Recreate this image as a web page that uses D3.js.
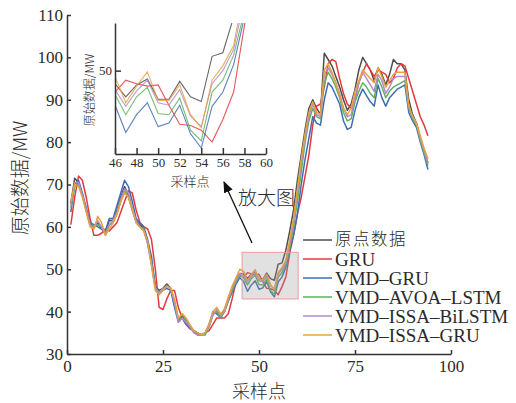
<!DOCTYPE html>
<html>
<head>
<meta charset="utf-8">
<title>采样点预测对比</title>
<script src="https://d3js.org/d3.v7.min.js"></script>
<style>
  body { margin: 0; background: #fff; }
  svg text { fill: #2a2a2a; }
  .num { font-family: "Liberation Serif", "DejaVu Serif", serif; }
  .cjk { font-family: "Noto Sans CJK SC", sans-serif; font-weight: 300; }
  .axis path, .axis line { stroke: #333; }
</style>
</head>
<body>
<script>
// sample index 1..94
var samples = d3.range(1, 95);

var seriesNames = ["原点数据", "GRU", "VMD–GRU", "VMD–AVOA–LSTM", "VMD–ISSA–BiLSTM", "VMD–ISSA–GRU"];
var seriesColors = ["#4d4d4d", "#e5393c", "#3f6db4", "#5db25d", "#b48acc", "#e7a23e"];

var original = [65.5, 71.5, 70.5, 67.5, 64, 60.5, 60, 61, 59.5, 58.5,
  61.5, 61.5, 64, 67, 69.5, 67.5, 64, 61.5, 60.5, 59.5,
  56.5, 51.5, 46, 45, 45.5, 46.5, 45.5, 42, 38, 39,
  37.5, 36.5, 35.5, 34.5, 34.5, 35, 36.5, 39.5, 40, 39,
  40.5, 43, 45.5, 47.5, 49, 48.9, 47.8, 48.8, 49.3, 47.6,
  47.6, 49.1, 47.8, 47.4, 51.2, 51.5, 54.5, 59, 64, 71,
  77, 83, 88, 90, 88, 86.5, 101, 99.5, 98, 95.5,
  93, 90, 87.5, 89, 92.5, 97, 100, 98.5, 97, 94.5,
  97.5, 96, 93.5, 96, 99.5, 98.5, 98.5, 97, 90, 86.5,
  84.5, 81, 78, 75];

var gru = [60.5, 67, 72, 71, 67, 62, 58, 58, 58.5, 59.5,
  59, 60, 61, 63.5, 66, 68.5, 68, 64, 61, 60,
  59.5, 57, 50, 41, 40.5, 43, 45, 45, 41, 38.5,
  37, 36, 35.5, 35, 34.5, 35, 35.5, 37, 38.5, 38.5,
  38.5, 39.5, 43, 47, 48.5, 48.2, 49.2, 48.9, 48.7, 48.8,
  47.1, 45.5, 45.4, 45, 44, 45.9, 48.2, 53.8, 58, 63,
  67, 72, 77, 84, 88.5, 89, 93, 98.5, 99.5, 99,
  95, 91.5, 89, 88, 90, 94, 96.5, 98.5, 97, 95.5,
  97, 96.5, 96, 94, 95, 97.5, 98.5, 98, 95, 92,
  89, 86, 84, 81.5];

var vmdGru = [63.5, 70, 71, 68, 64.5, 61, 60.5, 60, 59.5, 59,
  62, 62, 65, 68, 71, 69.5, 66, 62, 61, 60,
  57, 53, 46, 44.5, 45, 45.5, 45, 41, 37.5, 38.5,
  37, 36, 35.5, 35, 34.5, 35, 37, 40, 39.5, 38.5,
  40, 42.5, 44.5, 46.5, 48, 47.1, 44.8, 46.3, 47.3, 45.3,
  45.6, 47.1, 44.7, 43.5, 47, 48.2, 50.5, 54.5, 58, 63,
  70, 76, 81, 86, 84.5, 84, 90, 94, 93, 91,
  89, 85, 83, 83.5, 87.5, 90.5, 92.5, 91, 89.5, 88.5,
  93.5, 90.5, 88.5, 90.5, 91.5, 92.5, 93, 93.5, 87, 85,
  83.5, 80, 77, 73.5];

var vmdAvoaLstm = [64.5, 69.5, 70, 67.5, 64, 60.5, 60, 60.5, 60, 58.5,
  60.5, 61, 63, 66, 68.5, 67, 64, 61, 60, 59.5,
  56, 51.5, 45.5, 44.5, 45, 46, 45.5, 42.5, 38, 39.5,
  38, 36.5, 35.5, 35, 34.5, 34.5, 36.5, 39.5, 40, 38.5,
  40, 42.5, 45, 47, 48.5, 48, 46.3, 47.8, 48.6, 46.4,
  46.3, 47.7, 45, 44.1, 48.2, 49.2, 51.3, 55, 60, 66,
  73, 80, 85, 88, 86, 85.5, 94, 96.5, 95, 93,
  90.5, 87, 85, 85.5, 89.5, 92, 94, 93, 91.5, 90.5,
  95, 93, 90.5, 92, 93, 93.5, 94, 94.5, 88, 85.5,
  84, 80.5, 77.5, 74.5];

var vmdIssaBilstm = [65, 70.5, 70.5, 67.5, 64, 60.5, 59.5, 61.5, 60, 58,
  60.5, 61.5, 63.5, 66.5, 69, 68, 64.5, 61.5, 60, 59,
  56, 51, 45.5, 44.5, 45.5, 46, 45.5, 42, 37.5, 38.5,
  37.5, 36.5, 35, 34.5, 34.5, 35, 36.5, 39, 40.5, 39,
  40, 43, 45.5, 47.5, 49, 48.4, 47, 48.3, 49.2, 47.3,
  47.1, 48.4, 46.2, 45.3, 48.9, 50, 51.8, 56, 61, 68,
  75, 81, 86, 89, 86.5, 86, 96, 97.5, 96, 94,
  91.5, 88, 86, 86.5, 90.5, 94, 96.5, 95, 93.5, 92,
  96, 94.5, 91.5, 93, 95, 95.5, 95.5, 95.5, 88.5, 86,
  84.5, 81, 78, 75];

var vmdIssaGru = [66, 70, 69.5, 67, 63.5, 60, 59.5, 62.5, 61, 58,
  59.5, 61, 63, 66, 68, 67, 64, 61, 60, 59,
  56.5, 51, 45, 44, 45, 46, 45.5, 43, 38.5, 39.5,
  38.5, 37, 35.5, 35, 34.5, 35, 37, 40, 41, 39.5,
  40.5, 43.5, 46, 48, 50, 49.5, 47.3, 48.7, 49.9, 47.5,
  47.5, 48.8, 46.3, 45.2, 49.2, 50.4, 52.1, 57, 62, 69,
  76, 82, 87, 89.5, 87, 86.5, 97, 98.5, 96.5, 94,
  91, 88, 86.5, 88, 92, 94.5, 97, 96, 95, 94,
  97.5, 95.5, 93, 94.5, 96, 96.5, 96.5, 96.5, 88.5, 86,
  84.5, 81.5, 78.5, 76];

var allSeries = [original, gru, vmdGru, vmdAvoaLstm, vmdIssaBilstm, vmdIssaGru];

var xTicks = [0, 25, 50, 75, 100];
var yTicks = [30, 40, 50, 60, 70, 80, 90, 100, 110];
var insetXTicks = [46, 48, 50, 52, 54, 56, 58, 60];
var insetYTicks = [50];
var zoomBox = {x0: 45.6, x1: 60.2, y0: 43, y1: 54};

var width = 516, height = 403;

var svg = d3.select("body").append("svg")
    .attr("width", width)
    .attr("height", height);

// ---- main plot ----
var x = d3.scaleLinear().domain([0, 100]).range([67, 451]);
var y = d3.scaleLinear().domain([30, 110]).range([354, 15]);

var line = d3.line()
    .x(function(d, i) { return x(samples[i]); })
    .y(function(d) { return y(d); });

svg.append("g").selectAll("path")
    .data(allSeries)
  .enter().append("path")
    .attr("d", line)
    .attr("fill", "none")
    .attr("stroke", function(d, i) { return seriesColors[i]; })
    .attr("stroke-width", 1.5)
    .attr("stroke-linejoin", "round");

// shaded zoom region
svg.append("rect")
    .attr("x", x(zoomBox.x0))
    .attr("y", y(zoomBox.y1))
    .attr("width", x(zoomBox.x1) - x(zoomBox.x0))
    .attr("height", y(zoomBox.y0) - y(zoomBox.y1))
    .attr("fill", "#9a9a9a")
    .attr("fill-opacity", 0.3)
    .attr("stroke", "#e89a9a")
    .attr("stroke-width", 1);

svg.append("g")
    .attr("class", "axis num")
    .attr("transform", "translate(0,354)")
    .call(d3.axisBottom(x).tickValues(xTicks).tickSize(-4).tickSizeOuter(0).tickPadding(6));
svg.append("g")
    .attr("class", "axis num")
    .attr("transform", "translate(67,0)")
    .call(d3.axisLeft(y).tickValues(yTicks).tickSize(-4).tickSizeOuter(0).tickPadding(4));

svg.selectAll(".axis path").attr("stroke-width", 1.5);
svg.selectAll(".axis line").attr("stroke-width", 1.5);
svg.selectAll(".axis text").attr("font-size", 17).attr("fill", "#2a2a2a")
    .attr("font-family", "Liberation Serif, serif");

svg.append("text")
    .attr("class", "cjk")
    .attr("x", 259).attr("y", 398)
    .attr("text-anchor", "middle")
    .attr("font-size", 18)
    .text("采样点");

svg.append("text")
    .attr("class", "cjk")
    .attr("transform", "translate(27,178) rotate(-90)")
    .attr("text-anchor", "middle")
    .attr("font-size", 19)
    .text("原始数据/MW");

// legend
var legend = svg.append("g").attr("transform", "translate(303,240)");
seriesNames.forEach(function(name, i) {
  var g = legend.append("g").attr("transform", "translate(0," + (i * 19) + ")");
  g.append("line")
      .attr("x1", 0).attr("x2", 29)
      .attr("stroke", seriesColors[i])
      .attr("stroke-width", 1.5);
  g.append("text")
      .attr("class", i == 0 ? "cjk" : "num")
      .attr("x", 32).attr("dy", i == 0 ? "0.3em" : "0.35em")
      .attr("font-size", i == 0 ? 16.5 : 19)
      .attr("letter-spacing", i == 0 ? 1.5 : 0)
      .text(name);
});

// annotation arrow
svg.append("defs").append("marker")
    .attr("id", "head")
    .attr("viewBox", "0 0 10 10")
    .attr("refX", 9).attr("refY", 5)
    .attr("markerWidth", 9).attr("markerHeight", 9)
    .attr("orient", "auto")
  .append("path")
    .attr("d", "M0,1L10,5L0,9z")
    .attr("fill", "#111");

svg.append("line")
    .attr("x1", 252).attr("y1", 243)
    .attr("x2", 224).attr("y2", 182)
    .attr("stroke", "#111")
    .attr("stroke-width", 1.3)
    .attr("marker-end", "url(#head)");

svg.append("text")
    .attr("class", "cjk")
    .attr("x", 238).attr("y", 205)
    .attr("font-size", 19)
    .text("放大图");

// ---- inset ----
var ix = d3.scaleLinear().domain([46, 60]).range([115, 266]);
var iy = d3.scaleLinear().domain([43, 54]).range([154, 23]);

svg.select("defs").append("clipPath")
    .attr("id", "insetClip")
  .append("rect")
    .attr("x", 115).attr("y", 23)
    .attr("width", 151).attr("height", 131);

var iline = d3.line()
    .x(function(d, i) { return ix(samples[i]); })
    .y(function(d) { return iy(d); });

svg.append("g")
    .attr("clip-path", "url(#insetClip)")
  .selectAll("path")
    .data(allSeries)
  .enter().append("path")
    .attr("d", iline)
    .attr("fill", "none")
    .attr("stroke", function(d, i) { return seriesColors[i]; })
    .attr("stroke-opacity", 0.85)
    .attr("stroke-width", 1.1);

svg.append("g")
    .attr("class", "axis inset num")
    .attr("transform", "translate(0,154)")
    .call(d3.axisBottom(ix).tickValues(insetXTicks).tickSize(-6).tickSizeOuter(0).tickPadding(4));
svg.append("g")
    .attr("class", "axis inset num")
    .attr("transform", "translate(115,0)")
    .call(d3.axisLeft(iy).tickValues(insetYTicks).tickSize(-6).tickSizeOuter(0).tickPadding(3));

svg.selectAll(".inset path").attr("stroke-width", 1.5);
svg.selectAll(".inset line").attr("stroke-width", 1.5);
svg.selectAll(".inset text").attr("font-size", 13).attr("fill", "#2a2a2a")
    .attr("font-family", "Liberation Serif, serif");

svg.append("text")
    .attr("class", "cjk")
    .attr("x", 190).attr("y", 186)
    .attr("text-anchor", "middle")
    .attr("font-size", 13)
    .text("采样点");

svg.append("text")
    .attr("class", "cjk")
    .attr("transform", "translate(94,90) rotate(-90)")
    .attr("text-anchor", "middle")
    .attr("font-size", 12)
    .text("原始数据/MW");
</script>
</body>
</html>
